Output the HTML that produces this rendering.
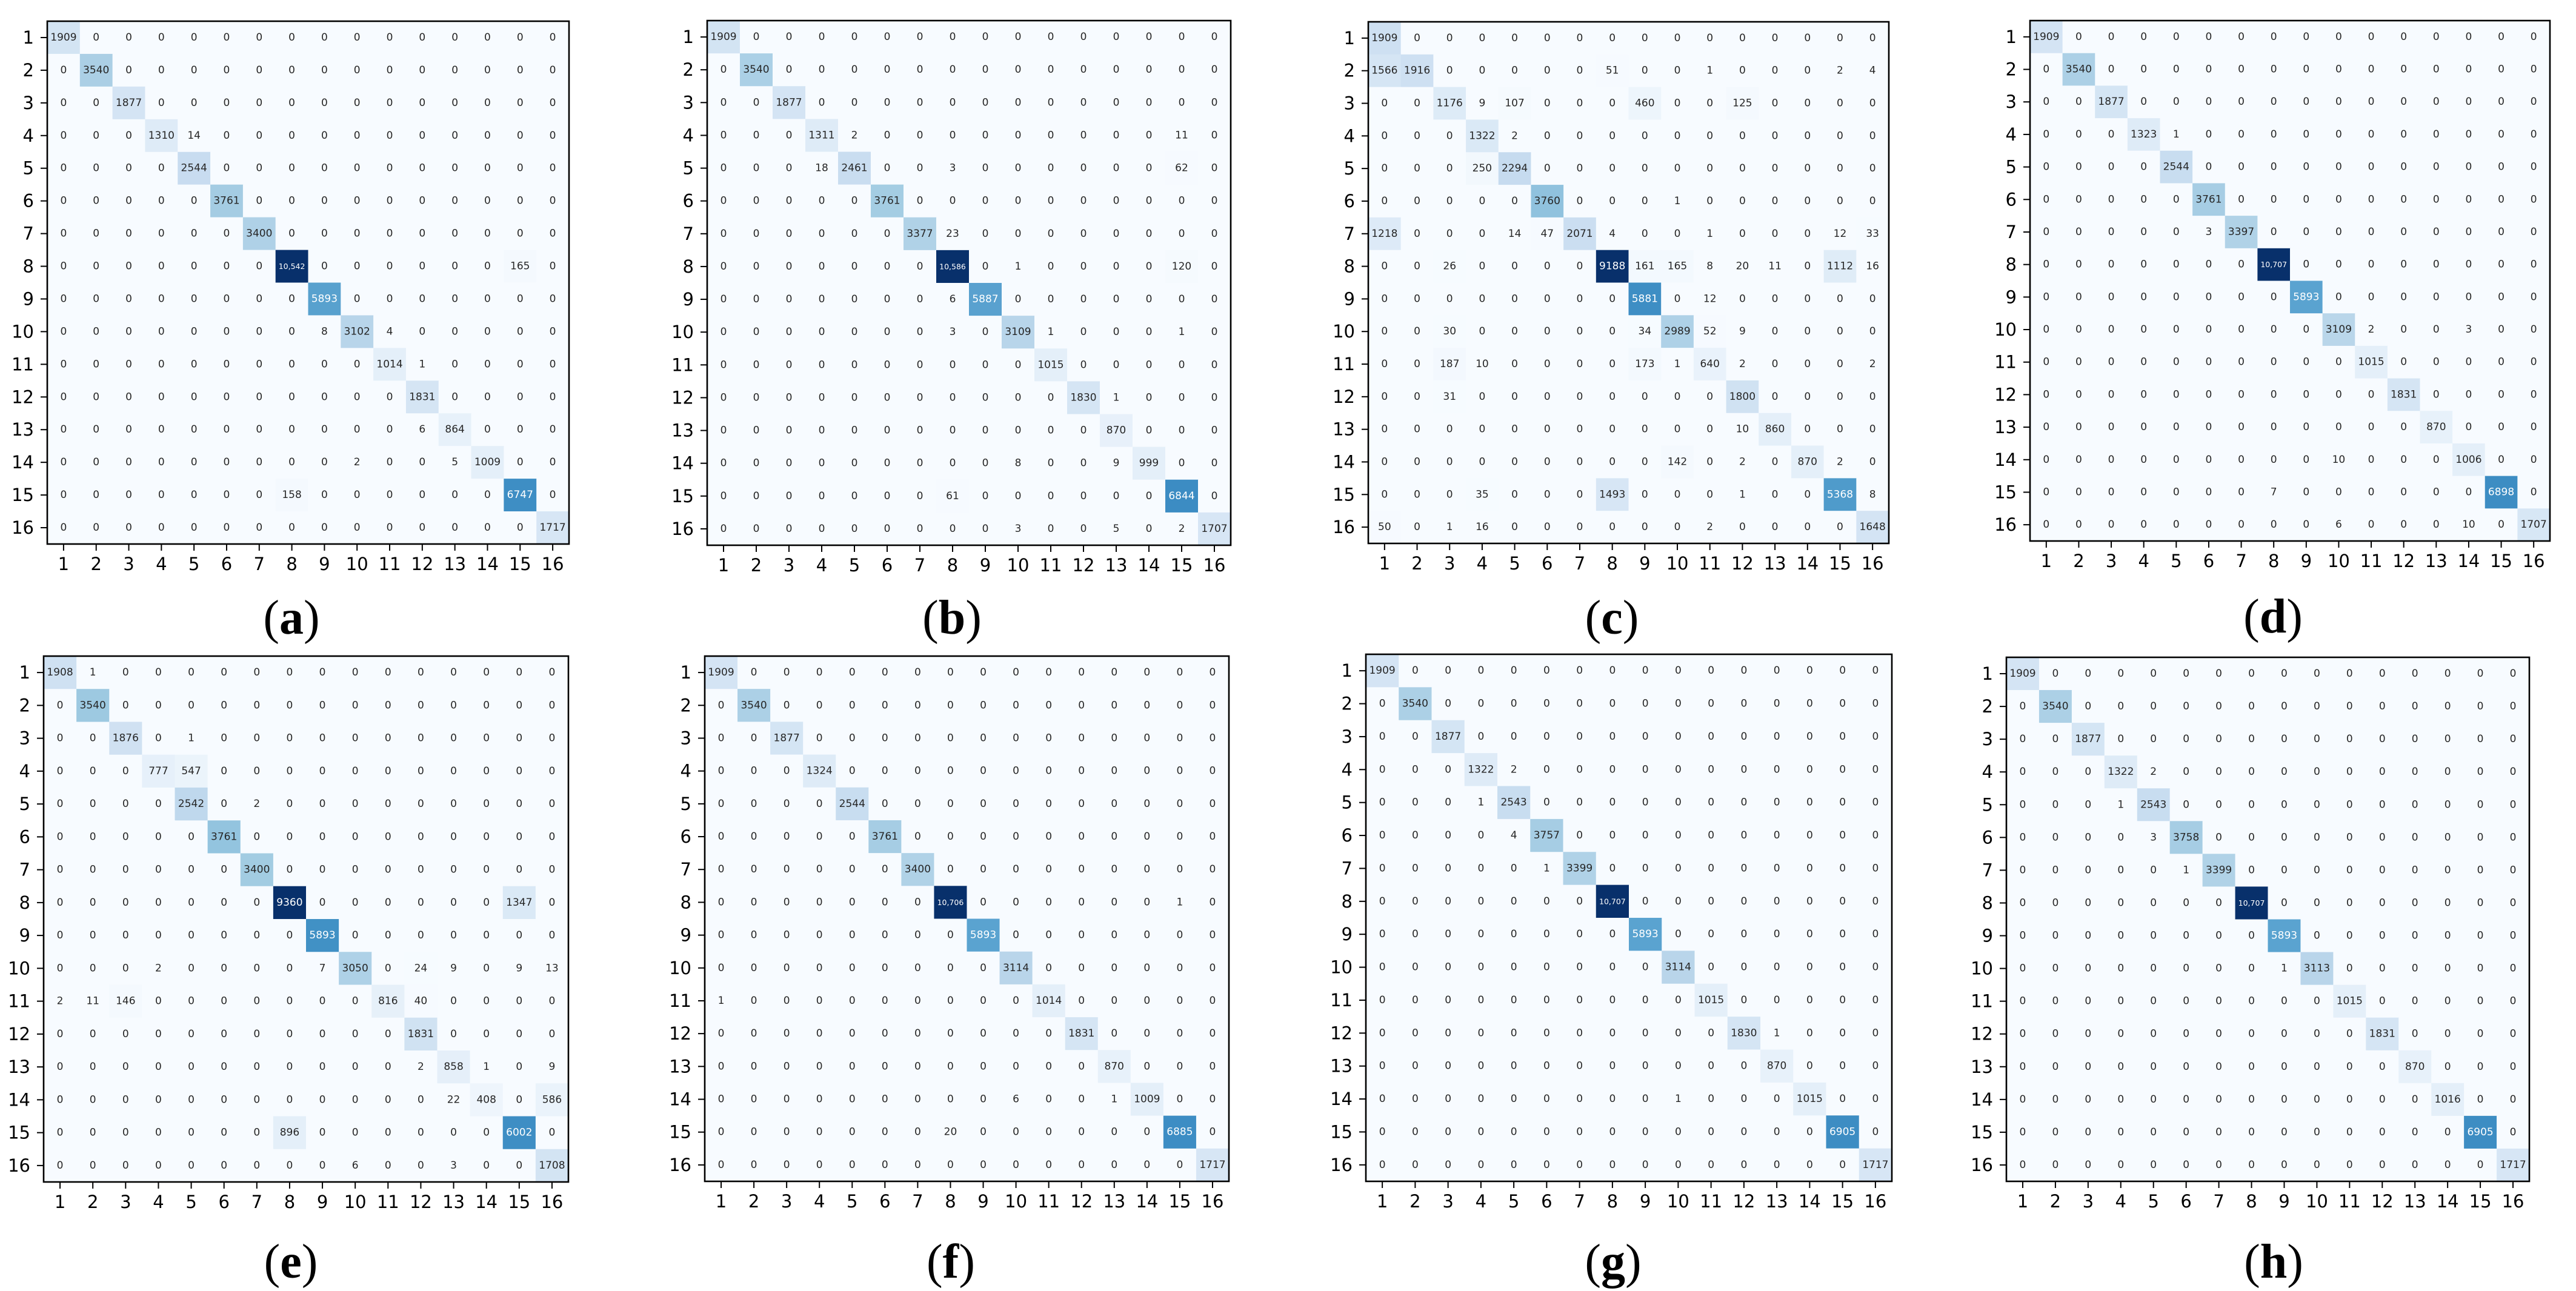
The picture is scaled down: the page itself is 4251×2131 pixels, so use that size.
<!DOCTYPE html>
<html><head><meta charset="utf-8">
<style>
html,body{margin:0;padding:0;background:#fff;}
svg{display:block;}
</style></head>
<body>
<svg id="fig" xmlns="http://www.w3.org/2000/svg" width="4251" height="2131" viewBox="0 0 4251 2131">
<rect x="0" y="0" width="4251" height="2131" fill="#ffffff"/>
</svg>
<script>
const classLabels = ['1','2','3','4','5','6','7','8','9','10','11','12','13','14','15','16'];
const panelLetters = ['a','b','c','d','e','f','g','h'];

const matA = [
[1909,0,0,0,0,0,0,0,0,0,0,0,0,0,0,0],
[0,3540,0,0,0,0,0,0,0,0,0,0,0,0,0,0],
[0,0,1877,0,0,0,0,0,0,0,0,0,0,0,0,0],
[0,0,0,1310,14,0,0,0,0,0,0,0,0,0,0,0],
[0,0,0,0,2544,0,0,0,0,0,0,0,0,0,0,0],
[0,0,0,0,0,3761,0,0,0,0,0,0,0,0,0,0],
[0,0,0,0,0,0,3400,0,0,0,0,0,0,0,0,0],
[0,0,0,0,0,0,0,10542,0,0,0,0,0,0,165,0],
[0,0,0,0,0,0,0,0,5893,0,0,0,0,0,0,0],
[0,0,0,0,0,0,0,0,8,3102,4,0,0,0,0,0],
[0,0,0,0,0,0,0,0,0,0,1014,1,0,0,0,0],
[0,0,0,0,0,0,0,0,0,0,0,1831,0,0,0,0],
[0,0,0,0,0,0,0,0,0,0,0,6,864,0,0,0],
[0,0,0,0,0,0,0,0,0,2,0,0,5,1009,0,0],
[0,0,0,0,0,0,0,158,0,0,0,0,0,0,6747,0],
[0,0,0,0,0,0,0,0,0,0,0,0,0,0,0,1717]];

const matB = [
[1909,0,0,0,0,0,0,0,0,0,0,0,0,0,0,0],
[0,3540,0,0,0,0,0,0,0,0,0,0,0,0,0,0],
[0,0,1877,0,0,0,0,0,0,0,0,0,0,0,0,0],
[0,0,0,1311,2,0,0,0,0,0,0,0,0,0,11,0],
[0,0,0,18,2461,0,0,3,0,0,0,0,0,0,62,0],
[0,0,0,0,0,3761,0,0,0,0,0,0,0,0,0,0],
[0,0,0,0,0,0,3377,23,0,0,0,0,0,0,0,0],
[0,0,0,0,0,0,0,10586,0,1,0,0,0,0,120,0],
[0,0,0,0,0,0,0,6,5887,0,0,0,0,0,0,0],
[0,0,0,0,0,0,0,3,0,3109,1,0,0,0,1,0],
[0,0,0,0,0,0,0,0,0,0,1015,0,0,0,0,0],
[0,0,0,0,0,0,0,0,0,0,0,1830,1,0,0,0],
[0,0,0,0,0,0,0,0,0,0,0,0,870,0,0,0],
[0,0,0,0,0,0,0,0,0,8,0,0,9,999,0,0],
[0,0,0,0,0,0,0,61,0,0,0,0,0,0,6844,0],
[0,0,0,0,0,0,0,0,0,3,0,0,5,0,2,1707]];

const matC = [
[1909,0,0,0,0,0,0,0,0,0,0,0,0,0,0,0],
[1566,1916,0,0,0,0,0,51,0,0,1,0,0,0,2,4],
[0,0,1176,9,107,0,0,0,460,0,0,125,0,0,0,0],
[0,0,0,1322,2,0,0,0,0,0,0,0,0,0,0,0],
[0,0,0,250,2294,0,0,0,0,0,0,0,0,0,0,0],
[0,0,0,0,0,3760,0,0,0,1,0,0,0,0,0,0],
[1218,0,0,0,14,47,2071,4,0,0,1,0,0,0,12,33],
[0,0,26,0,0,0,0,9188,161,165,8,20,11,0,1112,16],
[0,0,0,0,0,0,0,0,5881,0,12,0,0,0,0,0],
[0,0,30,0,0,0,0,0,34,2989,52,9,0,0,0,0],
[0,0,187,10,0,0,0,0,173,1,640,2,0,0,0,2],
[0,0,31,0,0,0,0,0,0,0,0,1800,0,0,0,0],
[0,0,0,0,0,0,0,0,0,0,0,10,860,0,0,0],
[0,0,0,0,0,0,0,0,0,142,0,2,0,870,2,0],
[0,0,0,35,0,0,0,1493,0,0,0,1,0,0,5368,8],
[50,0,1,16,0,0,0,0,0,0,2,0,0,0,0,1648]];

const matD = [
[1909,0,0,0,0,0,0,0,0,0,0,0,0,0,0,0],
[0,3540,0,0,0,0,0,0,0,0,0,0,0,0,0,0],
[0,0,1877,0,0,0,0,0,0,0,0,0,0,0,0,0],
[0,0,0,1323,1,0,0,0,0,0,0,0,0,0,0,0],
[0,0,0,0,2544,0,0,0,0,0,0,0,0,0,0,0],
[0,0,0,0,0,3761,0,0,0,0,0,0,0,0,0,0],
[0,0,0,0,0,3,3397,0,0,0,0,0,0,0,0,0],
[0,0,0,0,0,0,0,10707,0,0,0,0,0,0,0,0],
[0,0,0,0,0,0,0,0,5893,0,0,0,0,0,0,0],
[0,0,0,0,0,0,0,0,0,3109,2,0,0,3,0,0],
[0,0,0,0,0,0,0,0,0,0,1015,0,0,0,0,0],
[0,0,0,0,0,0,0,0,0,0,0,1831,0,0,0,0],
[0,0,0,0,0,0,0,0,0,0,0,0,870,0,0,0],
[0,0,0,0,0,0,0,0,0,10,0,0,0,1006,0,0],
[0,0,0,0,0,0,0,7,0,0,0,0,0,0,6898,0],
[0,0,0,0,0,0,0,0,0,6,0,0,0,10,0,1707]];

const matE = [
[1908,1,0,0,0,0,0,0,0,0,0,0,0,0,0,0],
[0,3540,0,0,0,0,0,0,0,0,0,0,0,0,0,0],
[0,0,1876,0,1,0,0,0,0,0,0,0,0,0,0,0],
[0,0,0,777,547,0,0,0,0,0,0,0,0,0,0,0],
[0,0,0,0,2542,0,2,0,0,0,0,0,0,0,0,0],
[0,0,0,0,0,3761,0,0,0,0,0,0,0,0,0,0],
[0,0,0,0,0,0,3400,0,0,0,0,0,0,0,0,0],
[0,0,0,0,0,0,0,9360,0,0,0,0,0,0,1347,0],
[0,0,0,0,0,0,0,0,5893,0,0,0,0,0,0,0],
[0,0,0,2,0,0,0,0,7,3050,0,24,9,0,9,13],
[2,11,146,0,0,0,0,0,0,0,816,40,0,0,0,0],
[0,0,0,0,0,0,0,0,0,0,0,1831,0,0,0,0],
[0,0,0,0,0,0,0,0,0,0,0,2,858,1,0,9],
[0,0,0,0,0,0,0,0,0,0,0,0,22,408,0,586],
[0,0,0,0,0,0,0,896,0,0,0,0,0,0,6002,0],
[0,0,0,0,0,0,0,0,0,6,0,0,3,0,0,1708]];

const matF = [
[1909,0,0,0,0,0,0,0,0,0,0,0,0,0,0,0],
[0,3540,0,0,0,0,0,0,0,0,0,0,0,0,0,0],
[0,0,1877,0,0,0,0,0,0,0,0,0,0,0,0,0],
[0,0,0,1324,0,0,0,0,0,0,0,0,0,0,0,0],
[0,0,0,0,2544,0,0,0,0,0,0,0,0,0,0,0],
[0,0,0,0,0,3761,0,0,0,0,0,0,0,0,0,0],
[0,0,0,0,0,0,3400,0,0,0,0,0,0,0,0,0],
[0,0,0,0,0,0,0,10706,0,0,0,0,0,0,1,0],
[0,0,0,0,0,0,0,0,5893,0,0,0,0,0,0,0],
[0,0,0,0,0,0,0,0,0,3114,0,0,0,0,0,0],
[1,0,0,0,0,0,0,0,0,0,1014,0,0,0,0,0],
[0,0,0,0,0,0,0,0,0,0,0,1831,0,0,0,0],
[0,0,0,0,0,0,0,0,0,0,0,0,870,0,0,0],
[0,0,0,0,0,0,0,0,0,6,0,0,1,1009,0,0],
[0,0,0,0,0,0,0,20,0,0,0,0,0,0,6885,0],
[0,0,0,0,0,0,0,0,0,0,0,0,0,0,0,1717]];

const matG = [
[1909,0,0,0,0,0,0,0,0,0,0,0,0,0,0,0],
[0,3540,0,0,0,0,0,0,0,0,0,0,0,0,0,0],
[0,0,1877,0,0,0,0,0,0,0,0,0,0,0,0,0],
[0,0,0,1322,2,0,0,0,0,0,0,0,0,0,0,0],
[0,0,0,1,2543,0,0,0,0,0,0,0,0,0,0,0],
[0,0,0,0,4,3757,0,0,0,0,0,0,0,0,0,0],
[0,0,0,0,0,1,3399,0,0,0,0,0,0,0,0,0],
[0,0,0,0,0,0,0,10707,0,0,0,0,0,0,0,0],
[0,0,0,0,0,0,0,0,5893,0,0,0,0,0,0,0],
[0,0,0,0,0,0,0,0,0,3114,0,0,0,0,0,0],
[0,0,0,0,0,0,0,0,0,0,1015,0,0,0,0,0],
[0,0,0,0,0,0,0,0,0,0,0,1830,1,0,0,0],
[0,0,0,0,0,0,0,0,0,0,0,0,870,0,0,0],
[0,0,0,0,0,0,0,0,0,1,0,0,0,1015,0,0],
[0,0,0,0,0,0,0,0,0,0,0,0,0,0,6905,0],
[0,0,0,0,0,0,0,0,0,0,0,0,0,0,0,1717]];

const matH = [
[1909,0,0,0,0,0,0,0,0,0,0,0,0,0,0,0],
[0,3540,0,0,0,0,0,0,0,0,0,0,0,0,0,0],
[0,0,1877,0,0,0,0,0,0,0,0,0,0,0,0,0],
[0,0,0,1322,2,0,0,0,0,0,0,0,0,0,0,0],
[0,0,0,1,2543,0,0,0,0,0,0,0,0,0,0,0],
[0,0,0,0,3,3758,0,0,0,0,0,0,0,0,0,0],
[0,0,0,0,0,1,3399,0,0,0,0,0,0,0,0,0],
[0,0,0,0,0,0,0,10707,0,0,0,0,0,0,0,0],
[0,0,0,0,0,0,0,0,5893,0,0,0,0,0,0,0],
[0,0,0,0,0,0,0,0,1,3113,0,0,0,0,0,0],
[0,0,0,0,0,0,0,0,0,0,1015,0,0,0,0,0],
[0,0,0,0,0,0,0,0,0,0,0,1831,0,0,0,0],
[0,0,0,0,0,0,0,0,0,0,0,0,870,0,0,0],
[0,0,0,0,0,0,0,0,0,0,0,0,0,1016,0,0],
[0,0,0,0,0,0,0,0,0,0,0,0,0,0,6905,0],
[0,0,0,0,0,0,0,0,0,0,0,0,0,0,0,1717]];

const matrices = [matA, matB, matC, matD, matE, matF, matG, matH];

// layout (pixel frames of each panel)
const layout = [
 {l:78,r:939,t:35,b:898,lx:481,ly:1020},
 {l:1167,r:2031,t:34,b:900,lx:1571,ly:1020},
 {l:2258,r:3117,t:36,b:897,lx:2660,ly:1020},
 {l:3350,r:4208,t:34,b:893,lx:3751,ly:1018},
 {l:72,r:938,t:1083,b:1951,lx:480,ly:2083},
 {l:1163,r:2028,t:1083,b:1950,lx:1569,ly:2083},
 {l:2254,r:3122,t:1080,b:1950,lx:2662,ly:2083},
 {l:3311,r:4174,t:1085,b:1950,lx:3752,ly:2083}
];

const NS = 'http://www.w3.org/2000/svg';
const svg = document.getElementById('fig');
const blues = [[247,251,255],[222,235,247],[198,219,239],[158,202,225],[107,174,214],[66,146,198],[33,113,181],[8,81,156],[8,48,107]];
function bluesColor(t){
  t = Math.max(0, Math.min(1, t));
  const p = t * 8, i = Math.min(7, Math.floor(p)), f = p - i;
  const a = blues[i], b = blues[i+1];
  return 'rgb(' + [0,1,2].map(k => Math.round(a[k] + (b[k]-a[k])*f)).join(',') + ')';
}
function mk(tag, attrs, parent){
  const e = document.createElementNS(NS, tag);
  for (const k in attrs) e.setAttribute(k, attrs[k]);
  parent.appendChild(e);
  return e;
}
function fmt(v){ return v >= 10000 ? v.toLocaleString('en-US') : String(v); }

matrices.forEach((m, pi) => {
  const L = layout[pi];
  const n = classLabels.length;
  const cw = (L.r - L.l) / n, ch = (L.b - L.t) / n;
  const xScale = c => L.l + c * cw;
  const yScale = r => L.t + r * ch;
  let mx = 0, mn = Infinity;
  m.forEach(row => row.forEach(v => { mx = Math.max(mx, v); mn = Math.min(mn, v); }));
  const thresh = (mx + mn) / 2;

  const g = mk('g', {}, svg);
  
  

  m.forEach((row, r) => row.forEach((v, c) => {
    const cell = mk('rect', {x: xScale(c), y: yScale(r), width: cw + 0.6, height: ch + 0.6, fill: bluesColor(v / mx)}, g);
    
    
    const big = v >= 10000;
    const t = mk('text', {x: xScale(c) + cw/2, y: yScale(r) + ch/2, 'text-anchor': 'middle', 'dominant-baseline': 'central',
      'font-family': '"DejaVu Sans", "Liberation Sans", sans-serif', 'font-size': big ? 12.5 : 17,
      fill: v > thresh ? '#ffffff' : '#262626'}, g);
    t.textContent = fmt(v);
    
    
  }));

  const frame = mk('rect', {x: L.l, y: L.t, width: L.r - L.l, height: L.b - L.t, fill: 'none', stroke: '#000', 'stroke-width': 2.6}, g);
  
  

  classLabels.forEach((lab, i) => {
    const yc = yScale(i) + ch/2;
    mk('line', {x1: L.l - 11, x2: L.l, y1: yc, y2: yc, stroke: '#000', 'stroke-width': 2}, g);
    const yt = mk('text', {x: L.l - 22, y: yc, 'text-anchor': 'end', 'dominant-baseline': 'central',
      'font-family': '"DejaVu Sans", "Liberation Sans", sans-serif', 'font-size': 29, fill: '#000'}, g);
    yt.textContent = lab;
    
    
    const xc = xScale(i) + cw/2;
    mk('line', {x1: xc, x2: xc, y1: L.b, y2: L.b + 11, stroke: '#000', 'stroke-width': 2}, g);
    const xt = mk('text', {x: xc, y: L.b + 33, 'text-anchor': 'middle', 'dominant-baseline': 'central',
      'font-family': '"DejaVu Sans", "Liberation Sans", sans-serif', 'font-size': 29, fill: '#000'}, g);
    xt.textContent = lab;
    
    
  });

  const cap = mk('text', {x: L.lx, y: L.ly, 'text-anchor': 'middle', 'dominant-baseline': 'central',
    'font-family': '"Liberation Serif", serif', 'font-size': 80, fill: '#000'}, svg);
  
  
  const p1 = mk('tspan', {}, cap); p1.textContent = '(';
  const p2 = mk('tspan', {'font-weight': 'bold'}, cap); p2.textContent = panelLetters[pi];
  const p3 = mk('tspan', {}, cap); p3.textContent = ')';
});
</script>
</body></html>
